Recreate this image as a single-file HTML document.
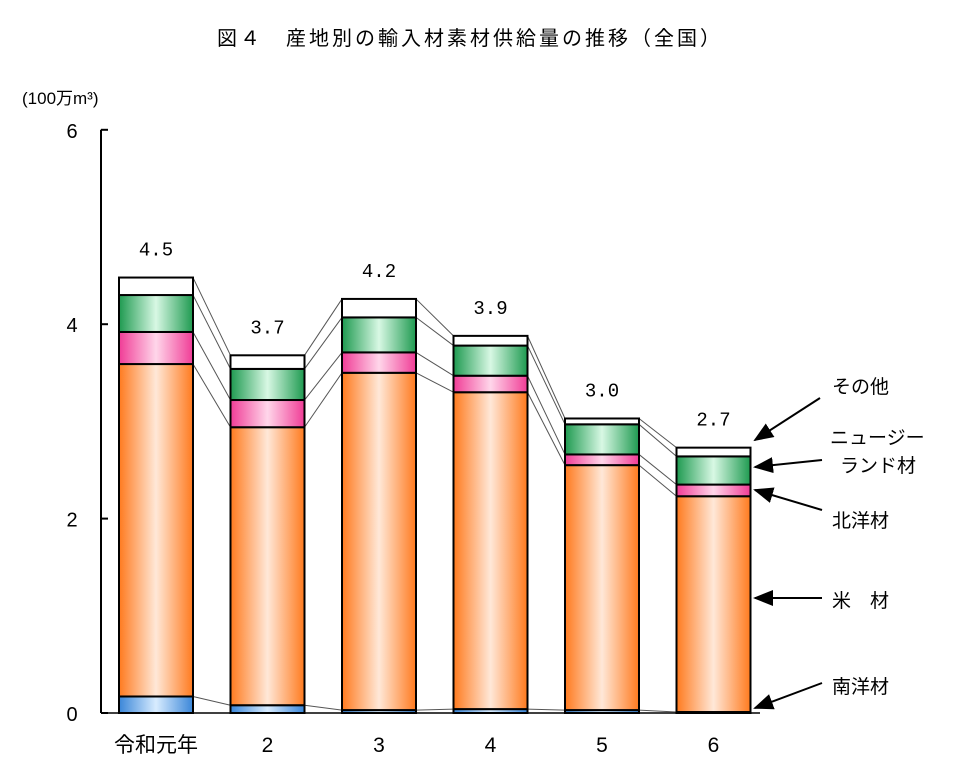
<!DOCTYPE html>
<html><head><meta charset="utf-8"><style>
body{margin:0;background:#fff}
svg{display:block;font-family:"Liberation Sans","Noto Sans CJK JP",sans-serif}
</style></head><body>
<svg id="chart" width="960" height="775" viewBox="0 0 960 775">
<defs>
<linearGradient id="gS" x1="0" x2="1"><stop offset="0" stop-color="#3a86d8"/><stop offset="0.5" stop-color="#d8ecff"/><stop offset="1" stop-color="#3a86d8"/></linearGradient>
<linearGradient id="gU" x1="0" x2="1"><stop offset="0" stop-color="#ff7a1e"/><stop offset="0.5" stop-color="#ffe8d8"/><stop offset="1" stop-color="#ff7a1e"/></linearGradient>
<linearGradient id="gN" x1="0" x2="1"><stop offset="0" stop-color="#f03c96"/><stop offset="0.5" stop-color="#ffd6ea"/><stop offset="1" stop-color="#f03c96"/></linearGradient>
<linearGradient id="gZ" x1="0" x2="1"><stop offset="0" stop-color="#1e9a50"/><stop offset="0.5" stop-color="#d8f8e4"/><stop offset="1" stop-color="#1e9a50"/></linearGradient>
</defs>
<text x="470" y="45" text-anchor="middle" font-size="20" letter-spacing="3">図４　産地別の輸入材素材供給量の推移（全国）</text>
<text x="22" y="104" font-size="17">(100万m³)</text>
<g id="axes"></g>
<g id="links"></g>
<g id="bars"></g>
<g id="labels"></g>
<g font-size="19">
<text x="832" y="393">その他</text>
<text x="830" y="444">ニュージー</text>
<text x="840" y="472">ランド材</text>
<text x="832" y="527">北洋材</text>
<text x="832" y="607">米　材</text>
<text x="832" y="693">南洋材</text>
</g>
<defs><marker id="ar" markerWidth="10" markerHeight="8" refX="9" refY="4" orient="auto"><path d="M0,0 L10,4 L0,8 z" fill="#000"/></marker></defs>
<g stroke="#000" stroke-width="2">
<line x1="820" y1="398" x2="755" y2="440" marker-end="url(#ar)"/>
<line x1="822" y1="460" x2="755" y2="467" marker-end="url(#ar)"/>
<line x1="822" y1="510" x2="755" y2="490" marker-end="url(#ar)"/>
<line x1="822" y1="598" x2="755" y2="598" marker-end="url(#ar)"/>
<line x1="822" y1="683" x2="755" y2="708" marker-end="url(#ar)"/>
</g>
</svg>
<script>
const categories=["令和元年","2","3","4","5","6"];
const south=[0.17,0.08,0.03,0.04,0.03,0.01];
const us=[3.42,2.86,3.47,3.26,2.52,2.22];
const north=[0.33,0.28,0.21,0.17,0.11,0.12];
const nz=[0.38,0.32,0.36,0.31,0.31,0.29];
const other=[0.18,0.14,0.19,0.10,0.06,0.09];
const totals=["4.5","3.7","4.2","3.9","3.0","2.7"];
const yTicks=[0,2,4,6];
const NS="http://www.w3.org/2000/svg";
const y0=713,pxPer=97.2,x0=156,step=111.5,bw=74;
const Y=v=>y0-v*pxPer, X=i=>x0+i*step;
function mk(t,a,p){const e=document.createElementNS(NS,t);for(const k in a)e.setAttribute(k,a[k]);p.appendChild(e);return e;}
const axes=document.getElementById('axes');
const ax=mk('line',{x1:101,y1:Y(6),x2:101,y2:y0,stroke:'#000','stroke-width':2},axes);


const bl=mk('line',{x1:101,y1:y0,x2:760,y2:y0,stroke:'#000','stroke-width':1.5},axes);


yTicks.forEach(v=>{
 const tk=mk('line',{x1:101,y1:Y(v),x2:108,y2:Y(v),stroke:'#000','stroke-width':2},axes);
 
 
 const t=mk('text',{x:72,y:Y(v)+8,'font-size':20,'text-anchor':'middle'},axes);
 t.textContent=v;
 
 
});
const series=[[south,'gS','south'],[us,'gU','us'],[north,'gN','north'],[nz,'gZ','nz'],[other,'#fff','other']];
const cum=categories.map((c,i)=>{let s=0;return series.map(sr=>{s+=sr[0][i];return s;});});
const links=document.getElementById('links');
for(let i=0;i<categories.length-1;i++){
 for(let k=0;k<5;k++){
  const l=mk('line',{x1:X(i)+bw/2,y1:Y(cum[i][k]),x2:X(i+1)-bw/2,y2:Y(cum[i+1][k]),stroke:'#555','stroke-width':1},links);
  
  
 }
}
const bars=document.getElementById('bars'),labels=document.getElementById('labels');
categories.forEach((c,i)=>{
 let base=0;
 series.forEach(sr=>{
  const v=sr[0][i];
  const fill=sr[1].startsWith('#')?sr[1]:'url(#'+sr[1]+')';
  const r=mk('rect',{x:X(i)-bw/2,y:Y(base+v),width:bw,height:v*pxPer,fill:fill,stroke:'#000','stroke-width':2},bars);
  
  
  base+=v;
 });
 const t=mk('text',{x:X(i),y:Y(base)-22,'font-size':19,'text-anchor':'middle','font-family':'Liberation Mono, monospace'},labels);
 t.textContent=totals[i];
 
 
 const xl=mk('text',{x:X(i),y:752,'font-size':21,'text-anchor':'middle'},labels);
 xl.textContent=c;
 
 
});
</script>
</body></html>
